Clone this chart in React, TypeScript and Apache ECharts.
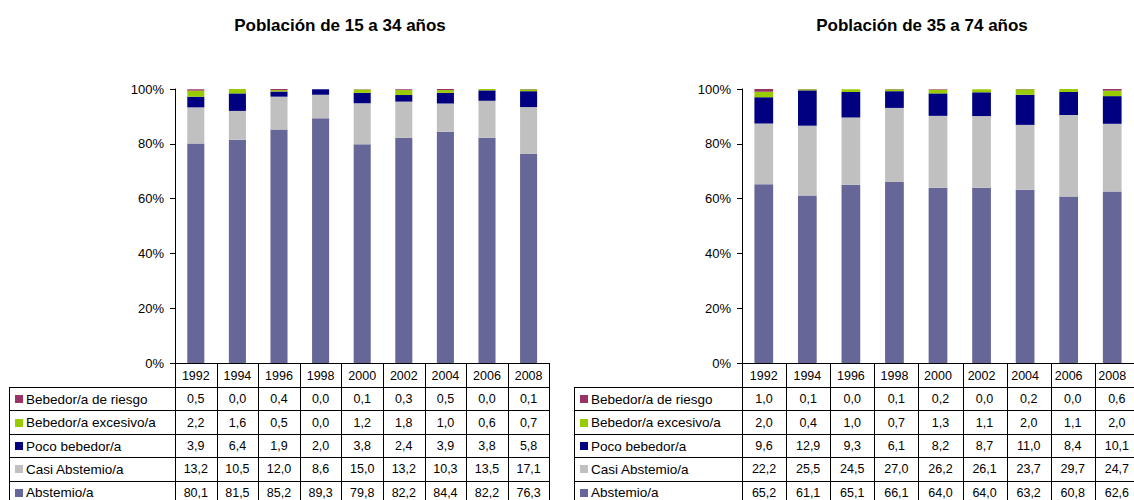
import React, { useEffect, useRef } from "react";
import * as echarts from "echarts";

const years = ["1992", "1994", "1996", "1998", "2000", "2002", "2004", "2006", "2008"];
const seriesNames = ["Bebedor/a de riesgo", "Bebedor/a excesivo/a", "Poco bebedor/a", "Casi Abstemio/a", "Abstemio/a"];
const seriesColors = ["#993366", "#99CC00", "#000080", "#C0C0C0", "#666699"];

// Población de 15 a 34 años
const young_riesgo = [0.5, 0.0, 0.4, 0.0, 0.1, 0.3, 0.5, 0.0, 0.1];
const young_excesivo = [2.2, 1.6, 0.5, 0.0, 1.2, 1.8, 1.0, 0.6, 0.7];
const young_poco = [3.9, 6.4, 1.9, 2.0, 3.8, 2.4, 3.9, 3.8, 5.8];
const young_casi = [13.2, 10.5, 12.0, 8.6, 15.0, 13.2, 10.3, 13.5, 17.1];
const young_abstemio = [80.1, 81.5, 85.2, 89.3, 79.8, 82.2, 84.4, 82.2, 76.3];

// Población de 35 a 74 años
const old_riesgo = [1.0, 0.1, 0.0, 0.1, 0.2, 0.0, 0.2, 0.0, 0.6];
const old_excesivo = [2.0, 0.4, 1.0, 0.7, 1.3, 1.1, 2.0, 1.1, 2.0];
const old_poco = [9.6, 12.9, 9.3, 6.1, 8.2, 8.7, 11.0, 8.4, 10.1];
const old_casi = [22.2, 25.5, 24.5, 27.0, 26.2, 26.1, 23.7, 29.7, 24.7];
const old_abstemio = [65.2, 61.1, 65.1, 66.1, 64.0, 64.0, 63.2, 60.8, 62.6];

const yTicks = [0, 20, 40, 60, 80, 100];

const youngRows = [young_riesgo, young_excesivo, young_poco, young_casi, young_abstemio];
const oldRows = [old_riesgo, old_excesivo, old_poco, old_casi, old_abstemio];

const FONT = "Liberation Sans, Arial, sans-serif";
const PLOT_TOP = 89;
const PLOT_H = 274;
const AXIS_Y = PLOT_TOP + PLOT_H; // 363
const HEADER_H = 24;
const ROW_H = 23.4;

const panels = [
  { title: "Población de 15 a 34 años", titleX: 340, tableLeft: 9, axisX: 175, colW: 41.6, rows: youngRows, barWidth: "41%" },
  { title: "Población de 35 a 74 años", titleX: 922, tableLeft: 574, axisX: 742, colW: 44.1, rows: oldRows, barWidth: "43%" },
];

const fmt = (v: number) => v.toFixed(1).replace(".", ",");

function buildTable(p: typeof panels[number]) {
  const els: any[] = [];
  const n = years.length;
  const right = p.axisX + n * p.colW;
  const bodyTop = AXIS_Y + HEADER_H;
  const nRows = p.rows.length;
  const bottom = bodyTop + nRows * ROW_H + 10;
  const line = (x1: number, y1: number, x2: number, y2: number) => ({
    type: "line",
    silent: true,
    shape: { x1, y1, x2, y2 },
    style: { stroke: "#000", lineWidth: 1 },
    z: 10,
  });
  // vertical lines
  els.push(line(Math.round(p.tableLeft) + 0.5, bodyTop, Math.round(p.tableLeft) + 0.5, bottom));
  for (let i = 0; i <= n; i++) {
    const x = Math.round(p.axisX + i * p.colW) + 0.5;
    els.push(line(x, AXIS_Y, x, bottom));
  }
  // horizontal lines
  for (let r = 0; r < nRows; r++) {
    const y = Math.round(bodyTop + r * ROW_H) + 0.5;
    els.push(line(p.tableLeft, y, right, y));
  }
  // rows
  p.rows.forEach((vals, r) => {
    const cy = bodyTop + r * ROW_H + ROW_H / 2 + 0.5;
    els.push({
      type: "rect",
      silent: true,
      shape: { x: p.tableLeft + 6, y: Math.round(cy - 4), width: 8, height: 8 },
      style: { fill: seriesColors[r] },
      z: 10,
    });
    els.push({
      type: "text",
      silent: true,
      x: p.tableLeft + 17,
      y: cy,
      style: { text: seriesNames[r], fontSize: 13.5, fontFamily: FONT, fill: "#000", align: "left", verticalAlign: "middle" },
      z: 10,
    });
    vals.forEach((v, i) => {
      els.push({
        type: "text",
        silent: true,
        x: p.axisX + (i + 0.5) * p.colW,
        y: cy,
        style: { text: fmt(v), fontSize: 12.5, fontFamily: FONT, fill: "#000", align: "center", verticalAlign: "middle" },
        z: 10,
      });
    });
  });
  els.push({
    type: "text",
    silent: true,
    x: p.titleX,
    y: 25,
    style: { text: p.title, fontSize: 17, fontWeight: "bold", fontFamily: FONT, fill: "#000", align: "center", verticalAlign: "middle" },
    z: 10,
  });
  return els;
}

export default function App() {
  const ref = useRef<HTMLDivElement>(null);
  useEffect(() => {
    if (!ref.current) return;
    const chart = echarts.init(ref.current, undefined, { renderer: "svg" });
    const grids = panels.map((p) => ({
      left: p.axisX,
      top: PLOT_TOP,
      width: years.length * p.colW,
      height: PLOT_H,
      containLabel: false,
    }));
    const xAxes = panels.map((_, gi) => ({
      type: "category",
      gridIndex: gi,
      data: years,
      axisLine: { show: true, lineStyle: { color: "#000", width: 1 } },
      axisTick: { show: false },
      axisLabel: { fontSize: 12.5, fontFamily: FONT, color: "#000", margin: 6, interval: 0 },
      splitLine: { show: false },
    }));
    const yAxes = panels.map((_, gi) => ({
      type: "value",
      gridIndex: gi,
      min: yTicks[0],
      max: yTicks[yTicks.length - 1],
      interval: yTicks[1] - yTicks[0],
      axisLine: { show: true, lineStyle: { color: "#000", width: 1 } },
      axisTick: { show: true, length: 5, lineStyle: { color: "#000" } },
      axisLabel: { formatter: "{value}%", fontSize: 13, fontFamily: FONT, color: "#000", margin: 11 },
      splitLine: { show: false },
    }));
    const series: any[] = [];
    panels.forEach((p, gi) => {
      // bottom to top
      for (let r = p.rows.length - 1; r >= 0; r--) {
        series.push({
          type: "bar",
          name: seriesNames[r] + (gi === 0 ? "" : " "),
          xAxisIndex: gi,
          yAxisIndex: gi,
          stack: "s" + gi,
          data: p.rows[r],
          barWidth: p.barWidth,
          itemStyle: { color: seriesColors[r] },
          emphasis: { disabled: true },
        });
      }
    });
    chart.setOption({
      animation: false,
      backgroundColor: "#fff",
      grid: grids,
      xAxis: xAxes,
      yAxis: yAxes,
      series,
      graphic: panels.flatMap((p) => buildTable(p)),
    });
    return () => chart.dispose();
  }, []);
  return <div ref={ref} style={{ position: "fixed", left: 0, top: 0, width: 1134, height: 500 }} />;
}
